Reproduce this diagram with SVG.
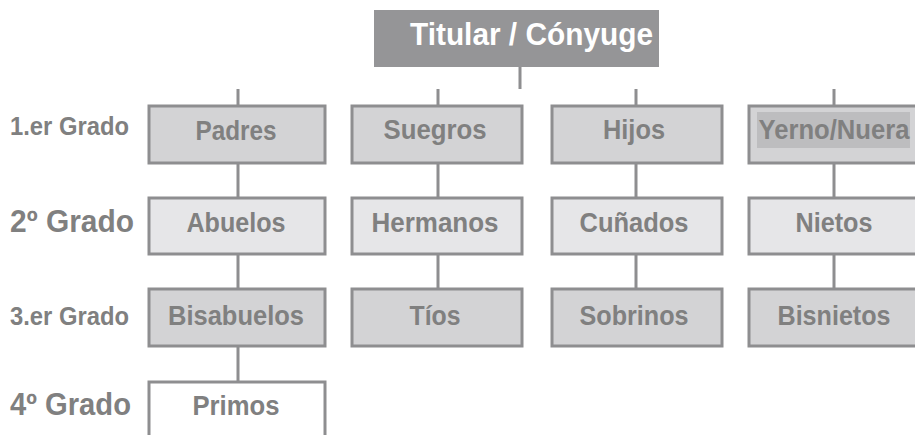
<svg xmlns="http://www.w3.org/2000/svg" width="915" height="435" viewBox="0 0 915 435">
<style>
.box{stroke:#8e8e90;stroke-width:3}
.r1{fill:#d3d3d5}.r2{fill:#e6e6e8}.r4{fill:#ffffff}
.t{font-family:"Liberation Sans",Arial,sans-serif;font-weight:bold;font-size:28px;fill:#808080;text-anchor:middle}
.lbl{font-family:"Liberation Sans",Arial,sans-serif;font-weight:bold;fill:#808080}
.c{stroke:#8e8e90;stroke-width:3;fill:none}
</style>
<rect width="915" height="435" fill="#ffffff"/>
<g id="connectors">
<path class="c" d="M520 67V89M238 89V106M238 163V198M238 254V289M238 346V382M438 89V106M438 163V198M438 254V289M636 89V106M636 163V198M636 254V289M834 89V106M834 163V198M834 254V289"/>
</g>
<g id="titular">
<rect x="374" y="10" width="285" height="57" fill="#959597"/>
<text x="410" y="45" textLength="243" lengthAdjust="spacingAndGlyphs" style="font-family:'Liberation Sans',Arial,sans-serif;font-weight:bold;font-size:30.5px;fill:#ffffff">Titular / Cónyuge</text>
</g>
<g id="labels">
<text class="lbl" x="10" y="135" font-size="25" textLength="119" lengthAdjust="spacingAndGlyphs">1.er Grado</text>
<text class="lbl" x="10" y="232" font-size="31" textLength="124" lengthAdjust="spacingAndGlyphs">2º Grado</text>
<text class="lbl" x="10" y="325" font-size="25" textLength="119" lengthAdjust="spacingAndGlyphs">3.er Grado</text>
<text class="lbl" x="10" y="415" font-size="31" textLength="121" lengthAdjust="spacingAndGlyphs">4º Grado</text>
</g>
<g id="padres"><rect class="box r1" x="149" y="106" width="176" height="57"/><text class="t" x="236" y="140" textLength="81" lengthAdjust="spacingAndGlyphs">Padres</text></g>
<g id="suegros"><rect class="box r1" x="352" y="106" width="170" height="57"/><text class="t" x="435" y="139" textLength="103" lengthAdjust="spacingAndGlyphs">Suegros</text></g>
<g id="hijos"><rect class="box r1" x="552" y="106" width="170" height="57"/><text class="t" x="634" y="139" textLength="62" lengthAdjust="spacingAndGlyphs">Hijos</text></g>
<g id="yerno"><rect class="box r1" x="749" y="106" width="175" height="57"/><rect x="757" y="112" width="153" height="36" fill="#bdbdbf"/><text class="t" x="834" y="139" textLength="151" lengthAdjust="spacingAndGlyphs">Yerno/Nuera</text></g>
<g id="abuelos"><rect class="box r2" x="149" y="198" width="176" height="56"/><text class="t" x="236" y="232" textLength="99" lengthAdjust="spacingAndGlyphs">Abuelos</text></g>
<g id="hermanos"><rect class="box r2" x="352" y="198" width="170" height="56"/><text class="t" x="435" y="232" textLength="127" lengthAdjust="spacingAndGlyphs">Hermanos</text></g>
<g id="cunados"><rect class="box r2" x="552" y="198" width="170" height="56"/><text class="t" x="634" y="232" textLength="109" lengthAdjust="spacingAndGlyphs">Cuñados</text></g>
<g id="nietos"><rect class="box r2" x="749" y="198" width="175" height="56"/><text class="t" x="834" y="232" textLength="77" lengthAdjust="spacingAndGlyphs">Nietos</text></g>
<g id="bisabuelos"><rect class="box r1" x="149" y="289" width="176" height="57"/><text class="t" x="236" y="325" textLength="136" lengthAdjust="spacingAndGlyphs">Bisabuelos</text></g>
<g id="tios"><rect class="box r1" x="352" y="289" width="170" height="57"/><text class="t" x="435" y="325" textLength="51" lengthAdjust="spacingAndGlyphs">Tíos</text></g>
<g id="sobrinos"><rect class="box r1" x="552" y="289" width="170" height="57"/><text class="t" x="634" y="325" textLength="109" lengthAdjust="spacingAndGlyphs">Sobrinos</text></g>
<g id="bisnietos"><rect class="box r1" x="749" y="289" width="175" height="57"/><text class="t" x="834" y="325" textLength="113" lengthAdjust="spacingAndGlyphs">Bisnietos</text></g>
<g id="primos"><rect class="box r4" x="149" y="382" width="176" height="60"/><text class="t" x="236" y="415" textLength="87" lengthAdjust="spacingAndGlyphs">Primos</text></g>
</svg>
